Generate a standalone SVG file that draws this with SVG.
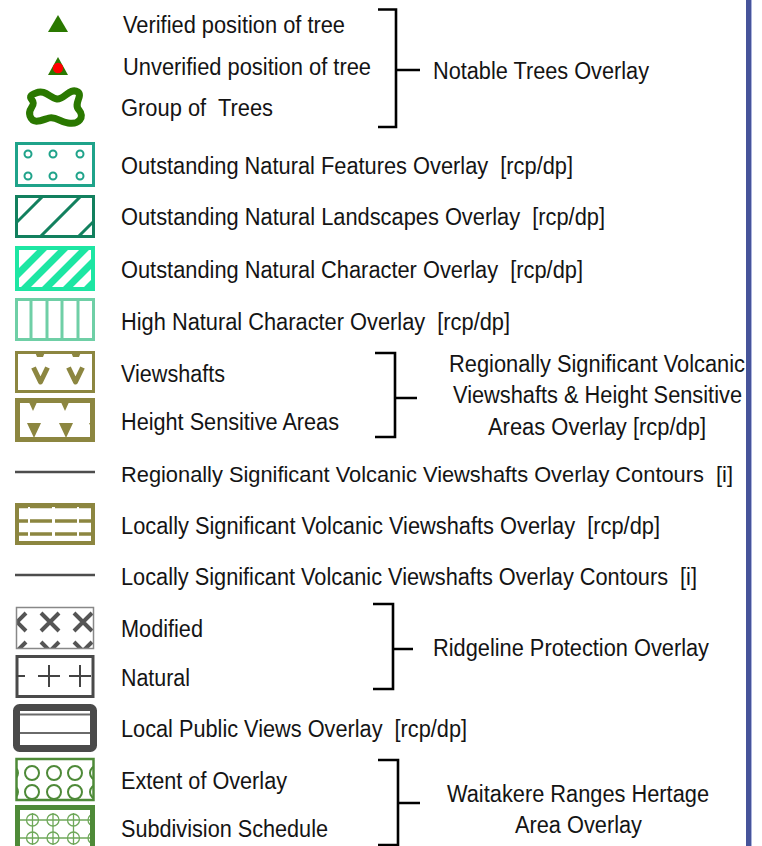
<svg xmlns="http://www.w3.org/2000/svg" width="762" height="846" viewBox="0 0 762 846">
<style>
.t{font-family:"Liberation Sans",Arial,sans-serif;font-size:23px;fill:#141414;white-space:pre}
.br{fill:none;stroke:#000;stroke-width:2.6}
.olive{fill:none;stroke:#8c8640}
</style>
<defs>
<clipPath id="cONL"><rect x="16" y="196" width="78" height="40"/></clipPath>
<clipPath id="cONC"><rect x="16" y="247" width="78" height="43"/></clipPath>
<clipPath id="cHS"><rect x="17" y="400" width="76" height="40"/></clipPath>
<clipPath id="cMod"><rect x="16.5" y="607.5" width="77" height="41"/></clipPath>
<clipPath id="cExt"><rect x="16.5" y="759" width="77" height="41"/></clipPath>
<clipPath id="cSub"><rect x="17.5" y="807.5" width="75" height="60"/></clipPath>
</defs>
<rect width="762" height="846" fill="#fff"/>
<rect x="746" y="0" width="5" height="846" fill="#46549a"/>
<rect x="751" y="0" width="1" height="846" fill="#aab3dc"/>

<g id="verified">
<polygon points="58,15 48,32 68,32" fill="#2a7800"/>
<text class="t" x="123" y="33" textLength="222" lengthAdjust="spacingAndGlyphs">Verified position of tree</text>
</g>
<g id="unverified">
<polygon points="58,57 48,75 68,75" fill="#2a7800"/>
<circle cx="58" cy="68" r="5.2" fill="#ff0000"/>
<text class="t" x="123" y="75" textLength="248" lengthAdjust="spacingAndGlyphs">Unverified position of tree</text>
</g>
<g id="group-trees">
<path d="M36 93 C45 89 50 98 57 99 C64 100 70 87 78 92 C83 96 73 104 79 110 C85 117 79 125 68 123 C60 122 56 116 49 118 C42 120 33 125 30 116 C27 108 37 106 32 100 C29 96 31 95 36 93 Z" fill="none" stroke="#2a7800" stroke-width="7" stroke-linejoin="round"/>
<text class="t" x="121" y="116" textLength="152" lengthAdjust="spacingAndGlyphs">Group of  Trees</text>
</g>
<g id="onf">
<rect x="16.5" y="143.5" width="77" height="42" fill="none" stroke="#1fa38a" stroke-width="3"/>
<g fill="none" stroke="#1fa38a" stroke-width="2">
<circle cx="28" cy="154" r="3.5"/><circle cx="53" cy="154" r="3.5"/><circle cx="80" cy="154" r="3.5"/>
<circle cx="28" cy="176" r="3.5"/><circle cx="53" cy="176" r="3.5"/><circle cx="80" cy="176" r="3.5"/>
</g>
<text class="t" x="121" y="174" textLength="452" lengthAdjust="spacingAndGlyphs">Outstanding Natural Features Overlay  [rcp/dp]</text>
</g>
<g id="onl">
<g clip-path="url(#cONL)" stroke="#12805e" stroke-width="3">
<line x1="-11" y1="250" x2="49" y2="190"/><line x1="27" y1="250" x2="87" y2="190"/><line x1="65" y1="250" x2="125" y2="190"/>
</g>
<rect x="16.5" y="196.5" width="77" height="40" fill="none" stroke="#12805e" stroke-width="3"/>
<text class="t" x="121" y="225" textLength="484" lengthAdjust="spacingAndGlyphs">Outstanding Natural Landscapes Overlay  [rcp/dp]</text>
</g>
<g id="onc">
<g clip-path="url(#cONC)" stroke="#1de6a3" stroke-width="7">
<line x1="-8" y1="300" x2="52" y2="240"/><line x1="13" y1="300" x2="73" y2="240"/><line x1="34" y1="300" x2="94" y2="240"/><line x1="55" y1="300" x2="115" y2="240"/><line x1="76" y1="300" x2="136" y2="240"/><line x1="97" y1="300" x2="157" y2="240"/>
</g>
<rect x="17" y="248" width="76" height="41" fill="none" stroke="#1de6a3" stroke-width="4"/>
<text class="t" x="121" y="278" textLength="462" lengthAdjust="spacingAndGlyphs">Outstanding Natural Character Overlay  [rcp/dp]</text>
</g>
<g id="hnc">
<rect x="16.5" y="299.5" width="77" height="40" fill="none" stroke="#6fcfa6" stroke-width="3"/>
<g stroke="#6fcfa6" stroke-width="3"><line x1="31" y1="299" x2="31" y2="340"/><line x1="47" y1="299" x2="47" y2="340"/><line x1="62" y1="299" x2="62" y2="340"/><line x1="78" y1="299" x2="78" y2="340"/></g>
<text class="t" x="121" y="330" textLength="389" lengthAdjust="spacingAndGlyphs">High Natural Character Overlay  [rcp/dp]</text>
</g>
<g id="viewshafts">
<rect x="16.5" y="352.5" width="77" height="39" class="olive" stroke-width="3"/>
<g fill="#8c8640"><polygon points="35,352 45,352 43,357 37,357"/><polygon points="71,352 81,352 79,357 73,357"/></g>
<g fill="none" stroke="#8c8640" stroke-width="5" stroke-linejoin="round"><polyline points="33.5,367.5 40.5,382 47.5,367.5"/><polyline points="68.5,367.5 75.5,382 82.5,367.5"/></g>
<text class="t" x="121" y="382" textLength="104" lengthAdjust="spacingAndGlyphs">Viewshafts</text>
</g>
<g id="height-sensitive">
<g clip-path="url(#cHS)" fill="#8c8640">
<polygon points="28,400 38,400 33,411"/><polygon points="60,400 70,400 65,411"/>
<polygon points="27,423 41,423 34,438"/><polygon points="59,423 73,423 66,438"/><polygon points="89,423 103,423 96,438"/>
</g>
<rect x="17.5" y="400.5" width="75" height="39" class="olive" stroke-width="5"/>
<text class="t" x="121" y="430" textLength="218" lengthAdjust="spacingAndGlyphs">Height Sensitive Areas</text>
</g>
<g id="rsvv-contours">
<line x1="15" y1="472" x2="95" y2="472" stroke="#4d4d4d" stroke-width="2.5"/>
<text class="t" x="121" y="482" style="font-size:21.6px" textLength="612" lengthAdjust="spacingAndGlyphs">Regionally Significant Volcanic Viewshafts Overlay Contours  [i]</text>
</g>
<g id="lsvv">
<rect x="17" y="505" width="76" height="38" class="olive" stroke-width="4"/>
<g stroke="#8c8640">
<path d="M19 507.5H28M30 507.5H52M55 507.5H77M79 507.5H92" stroke-width="1.6"/>
<path d="M19 521H28M30 521H52M55 521H77M79 521H92M19 534H28M30 534H52M55 534H77M79 534H92" stroke-width="3.5"/>
</g>
<text class="t" x="121" y="534" textLength="539" lengthAdjust="spacingAndGlyphs">Locally Significant Volcanic Viewshafts Overlay  [rcp/dp]</text>
</g>
<g id="lsvv-contours">
<line x1="15" y1="575" x2="95" y2="575" stroke="#4d4d4d" stroke-width="2.5"/>
<text class="t" x="121" y="585" textLength="576" lengthAdjust="spacingAndGlyphs">Locally Significant Volcanic Viewshafts Overlay Contours  [i]</text>
</g>
<g id="modified">
<g clip-path="url(#cMod)" stroke="#555" stroke-width="4">
<path d="M8 613L26 631M8 631L26 613M41 613L59 631M41 631L59 613M74 613L92 631M74 631L92 613"/>
<path d="M8 642L26 660M8 660L26 642M41 642L59 660M41 660L59 642M74 642L92 660M74 660L92 642"/>
</g>
<rect x="16.5" y="607.5" width="77" height="41" fill="none" stroke="#888" stroke-width="1.5"/>
<text class="t" x="121" y="637" textLength="82" lengthAdjust="spacingAndGlyphs">Modified</text>
</g>
<g id="natural">
<rect x="17" y="656.5" width="76" height="40" fill="none" stroke="#4a4a4a" stroke-width="3"/>
<path d="M16 676H25M38 676H60M49 665V687M69 676H91M80 665V687" stroke="#444" stroke-width="2"/>
<text class="t" x="121" y="686" textLength="69" lengthAdjust="spacingAndGlyphs">Natural</text>
</g>
<g id="local-public-views">
<rect x="16.5" y="707.5" width="77" height="41" rx="3" fill="none" stroke="#4a4a4a" stroke-width="7"/>
<path d="M20 714.5H90M20 733H90" stroke="#6a6a6a" stroke-width="2"/>
<text class="t" x="121" y="737" textLength="346" lengthAdjust="spacingAndGlyphs">Local Public Views Overlay  [rcp/dp]</text>
</g>
<g id="extent">
<g clip-path="url(#cExt)" fill="none" stroke="#4e8a38" stroke-width="2">
<circle cx="11" cy="773" r="7"/><circle cx="32" cy="773" r="7"/><circle cx="54" cy="773" r="7"/><circle cx="75" cy="773" r="7"/><circle cx="97" cy="773" r="7"/>
<circle cx="11" cy="792" r="7"/><circle cx="32" cy="792" r="7"/><circle cx="54" cy="792" r="7"/><circle cx="75" cy="792" r="7"/><circle cx="97" cy="792" r="7"/>
</g>
<rect x="16.5" y="759" width="77" height="41" fill="none" stroke="#4e8a38" stroke-width="2.5"/>
<text class="t" x="121" y="789" textLength="166" lengthAdjust="spacingAndGlyphs">Extent of Overlay</text>
</g>
<g id="subdivision">
<g clip-path="url(#cSub)" fill="none" stroke="#6fa85a" stroke-width="1.3">
<circle cx="12" cy="820" r="6"/><circle cx="32.5" cy="820" r="6"/><circle cx="53" cy="820" r="6"/><circle cx="73.5" cy="820" r="6"/><circle cx="94" cy="820" r="6"/>
<circle cx="12" cy="838" r="6"/><circle cx="32.5" cy="838" r="6"/><circle cx="53" cy="838" r="6"/><circle cx="73.5" cy="838" r="6"/><circle cx="94" cy="838" r="6"/>
<path d="M5 820H101M5 838H101M12 813V845M32.5 813V845M53 813V845M73.5 813V845M94 813V845"/>
</g>
<rect x="17.5" y="807.5" width="75" height="60" fill="none" stroke="#4e8a38" stroke-width="5"/>
<text class="t" x="121" y="837" textLength="207" lengthAdjust="spacingAndGlyphs">Subdivision Schedule</text>
</g>

<g id="connectors">
<path class="br" d="M378 9.5H396V127H378M396 70H420"/>
<path class="br" d="M375 353H395V437H375M395 398H417"/>
<path class="br" d="M373 604H393V689H373M393 649H413"/>
<path class="br" d="M378 760H398V845H378M398 803H420"/>
</g>

<g id="notable-trees-overlay">
<text class="t" x="433" y="79" textLength="216" lengthAdjust="spacingAndGlyphs">Notable Trees Overlay</text>
</g>
<g id="volcanic-overlay">
<text class="t" x="449" y="372" textLength="296" lengthAdjust="spacingAndGlyphs">Regionally Significant Volcanic</text>
<text class="t" x="453" y="403" textLength="289" lengthAdjust="spacingAndGlyphs">Viewshafts &amp; Height Sensitive</text>
<text class="t" x="488" y="435" textLength="218" lengthAdjust="spacingAndGlyphs">Areas Overlay [rcp/dp]</text>
</g>
<g id="ridgeline-overlay">
<text class="t" x="433" y="656" textLength="276" lengthAdjust="spacingAndGlyphs">Ridgeline Protection Overlay</text>
</g>
<g id="waitakere-overlay">
<text class="t" x="447" y="802" textLength="262" lengthAdjust="spacingAndGlyphs">Waitakere Ranges Hertage</text>
<text class="t" x="515" y="833" textLength="127" lengthAdjust="spacingAndGlyphs">Area Overlay</text>
</g>
</svg>
